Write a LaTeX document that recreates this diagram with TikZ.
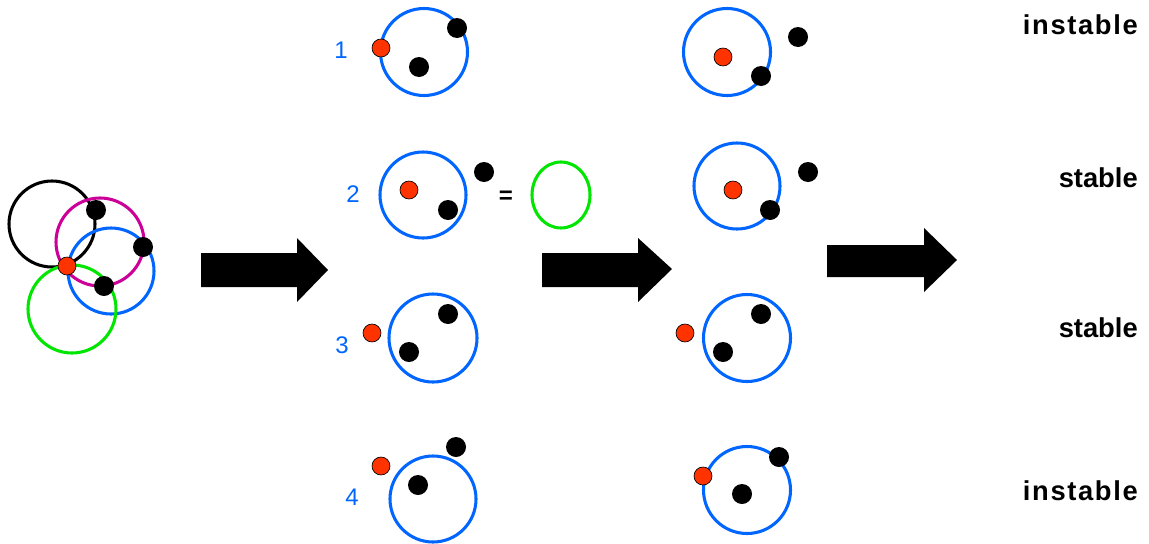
\documentclass[tikz,border=0pt]{standalone}
\usepackage{fontspec}
\setmainfont{Liberation Sans}
\definecolor{ringblue}{RGB}{0,102,255}
\definecolor{dotred}{RGB}{255,51,0}
\definecolor{ringmag}{RGB}{204,0,153}
\definecolor{ringgreen}{RGB}{0,230,0}
\tikzset{
  ring/.style={line width=2.3pt},
  bdot/.style={fill=black},
  rdot/.style={fill=dotred, draw=black, line width=0.5pt},
  bigarrow/.style={fill=black},
  numlabel/.style={text=ringblue, font=\fontsize{18}{21}\selectfont, inner sep=0pt},
  statelabel/.style={font=\bfseries\fontsize{20.5}{24}\selectfont, inner sep=0pt, anchor=east},
}
\begin{document}
\begin{tikzpicture}[x=0.75pt,y=-0.75pt]
\useasboundingbox[fill=white] (0,0) rectangle (1149,543);
% left cluster
\draw[ring, black] (52,224) circle[radius=43];
\draw[ring, ringmag] (100,242) circle[radius=44];
\draw[ring, ringblue] (111,271) circle[radius=43];
\draw[ring, ringgreen] (72,309) circle[radius=44];
\fill[bdot] (96,210) circle[radius=10];
\fill[bdot] (143,247) circle[radius=10];
\fill[bdot] (104,286) circle[radius=10];
\filldraw[rdot] (67,266) circle[radius=9];
% arrows
\fill[bigarrow] (201,253) -- (297,253) -- (297,238) -- (328,270) -- (297,302) -- (297,287) -- (201,287) -- cycle;
\fill[bigarrow] (542,253) -- (638,253) -- (638,238) -- (672,269) -- (638,302) -- (638,287) -- (542,287) -- cycle;
\fill[bigarrow] (827,245) -- (924,245) -- (924,228) -- (957,260) -- (924,292) -- (924,277) -- (827,277) -- cycle;
% column 1
\node[numlabel] (n1) at (341,50) {1};
\draw[ring, ringblue] (424,52) circle[radius=43.5];
\fill[bdot] (457,28) circle[radius=10];
\fill[bdot] (419,67) circle[radius=10];
\filldraw[rdot] (381,48) circle[radius=9];

\node[numlabel] (n2) at (353,194) {2};
\draw[ring, ringblue] (423,195) circle[radius=43];
\filldraw[rdot] (409,190) circle[radius=9];
\fill[bdot] (448,210) circle[radius=10];
\fill[bdot] (484,172) circle[radius=10];
\node[font=\bfseries\fontsize{18}{21}\selectfont, inner sep=0pt] (eq) at (506,197) {=};
\draw[ring, ringgreen] (561,195) ellipse[x radius=29, y radius=33];

\node[numlabel] (n3) at (342,345) {3};
\draw[ring, ringblue] (433,338) circle[radius=44];
\filldraw[rdot] (372,333) circle[radius=9];
\fill[bdot] (448,314) circle[radius=10];
\fill[bdot] (409,352) circle[radius=10];

\node[numlabel] (n4) at (352,497) {4};
\draw[ring, ringblue] (433,499) circle[radius=43];
\filldraw[rdot] (381,466) circle[radius=9];
\fill[bdot] (456,447) circle[radius=10];
\fill[bdot] (418,485) circle[radius=10];
% column 2
\draw[ring, ringblue] (727,52) circle[radius=43.5];
\filldraw[rdot] (723,57) circle[radius=9];
\fill[bdot] (798,37) circle[radius=10];
\fill[bdot] (761,76) circle[radius=10];

\draw[ring, ringblue] (737,186) circle[radius=43];
\filldraw[rdot] (733,190) circle[radius=9];
\fill[bdot] (808,172) circle[radius=10];
\fill[bdot] (770,210) circle[radius=10];

\draw[ring, ringblue] (747,338) circle[radius=43.5];
\filldraw[rdot] (685,333) circle[radius=9];
\fill[bdot] (761,314) circle[radius=10];
\fill[bdot] (723,352) circle[radius=10];

\draw[ring, ringblue] (747,490) circle[radius=43.5];
\fill[bdot] (779,457) circle[radius=10];
\fill[bdot] (742,494) circle[radius=10];
\filldraw[rdot] (703,476) circle[radius=9];
% state labels
\node[statelabel] (s1) at (1138,25) {\addfontfeature{LetterSpace=6}instable};
\node[statelabel] (s2) at (1138,178) {stable};
\node[statelabel] (s3) at (1138,328) {stable};
\node[statelabel] (s4) at (1138,491) {\addfontfeature{LetterSpace=6}instable};
\end{tikzpicture}
\end{document}
